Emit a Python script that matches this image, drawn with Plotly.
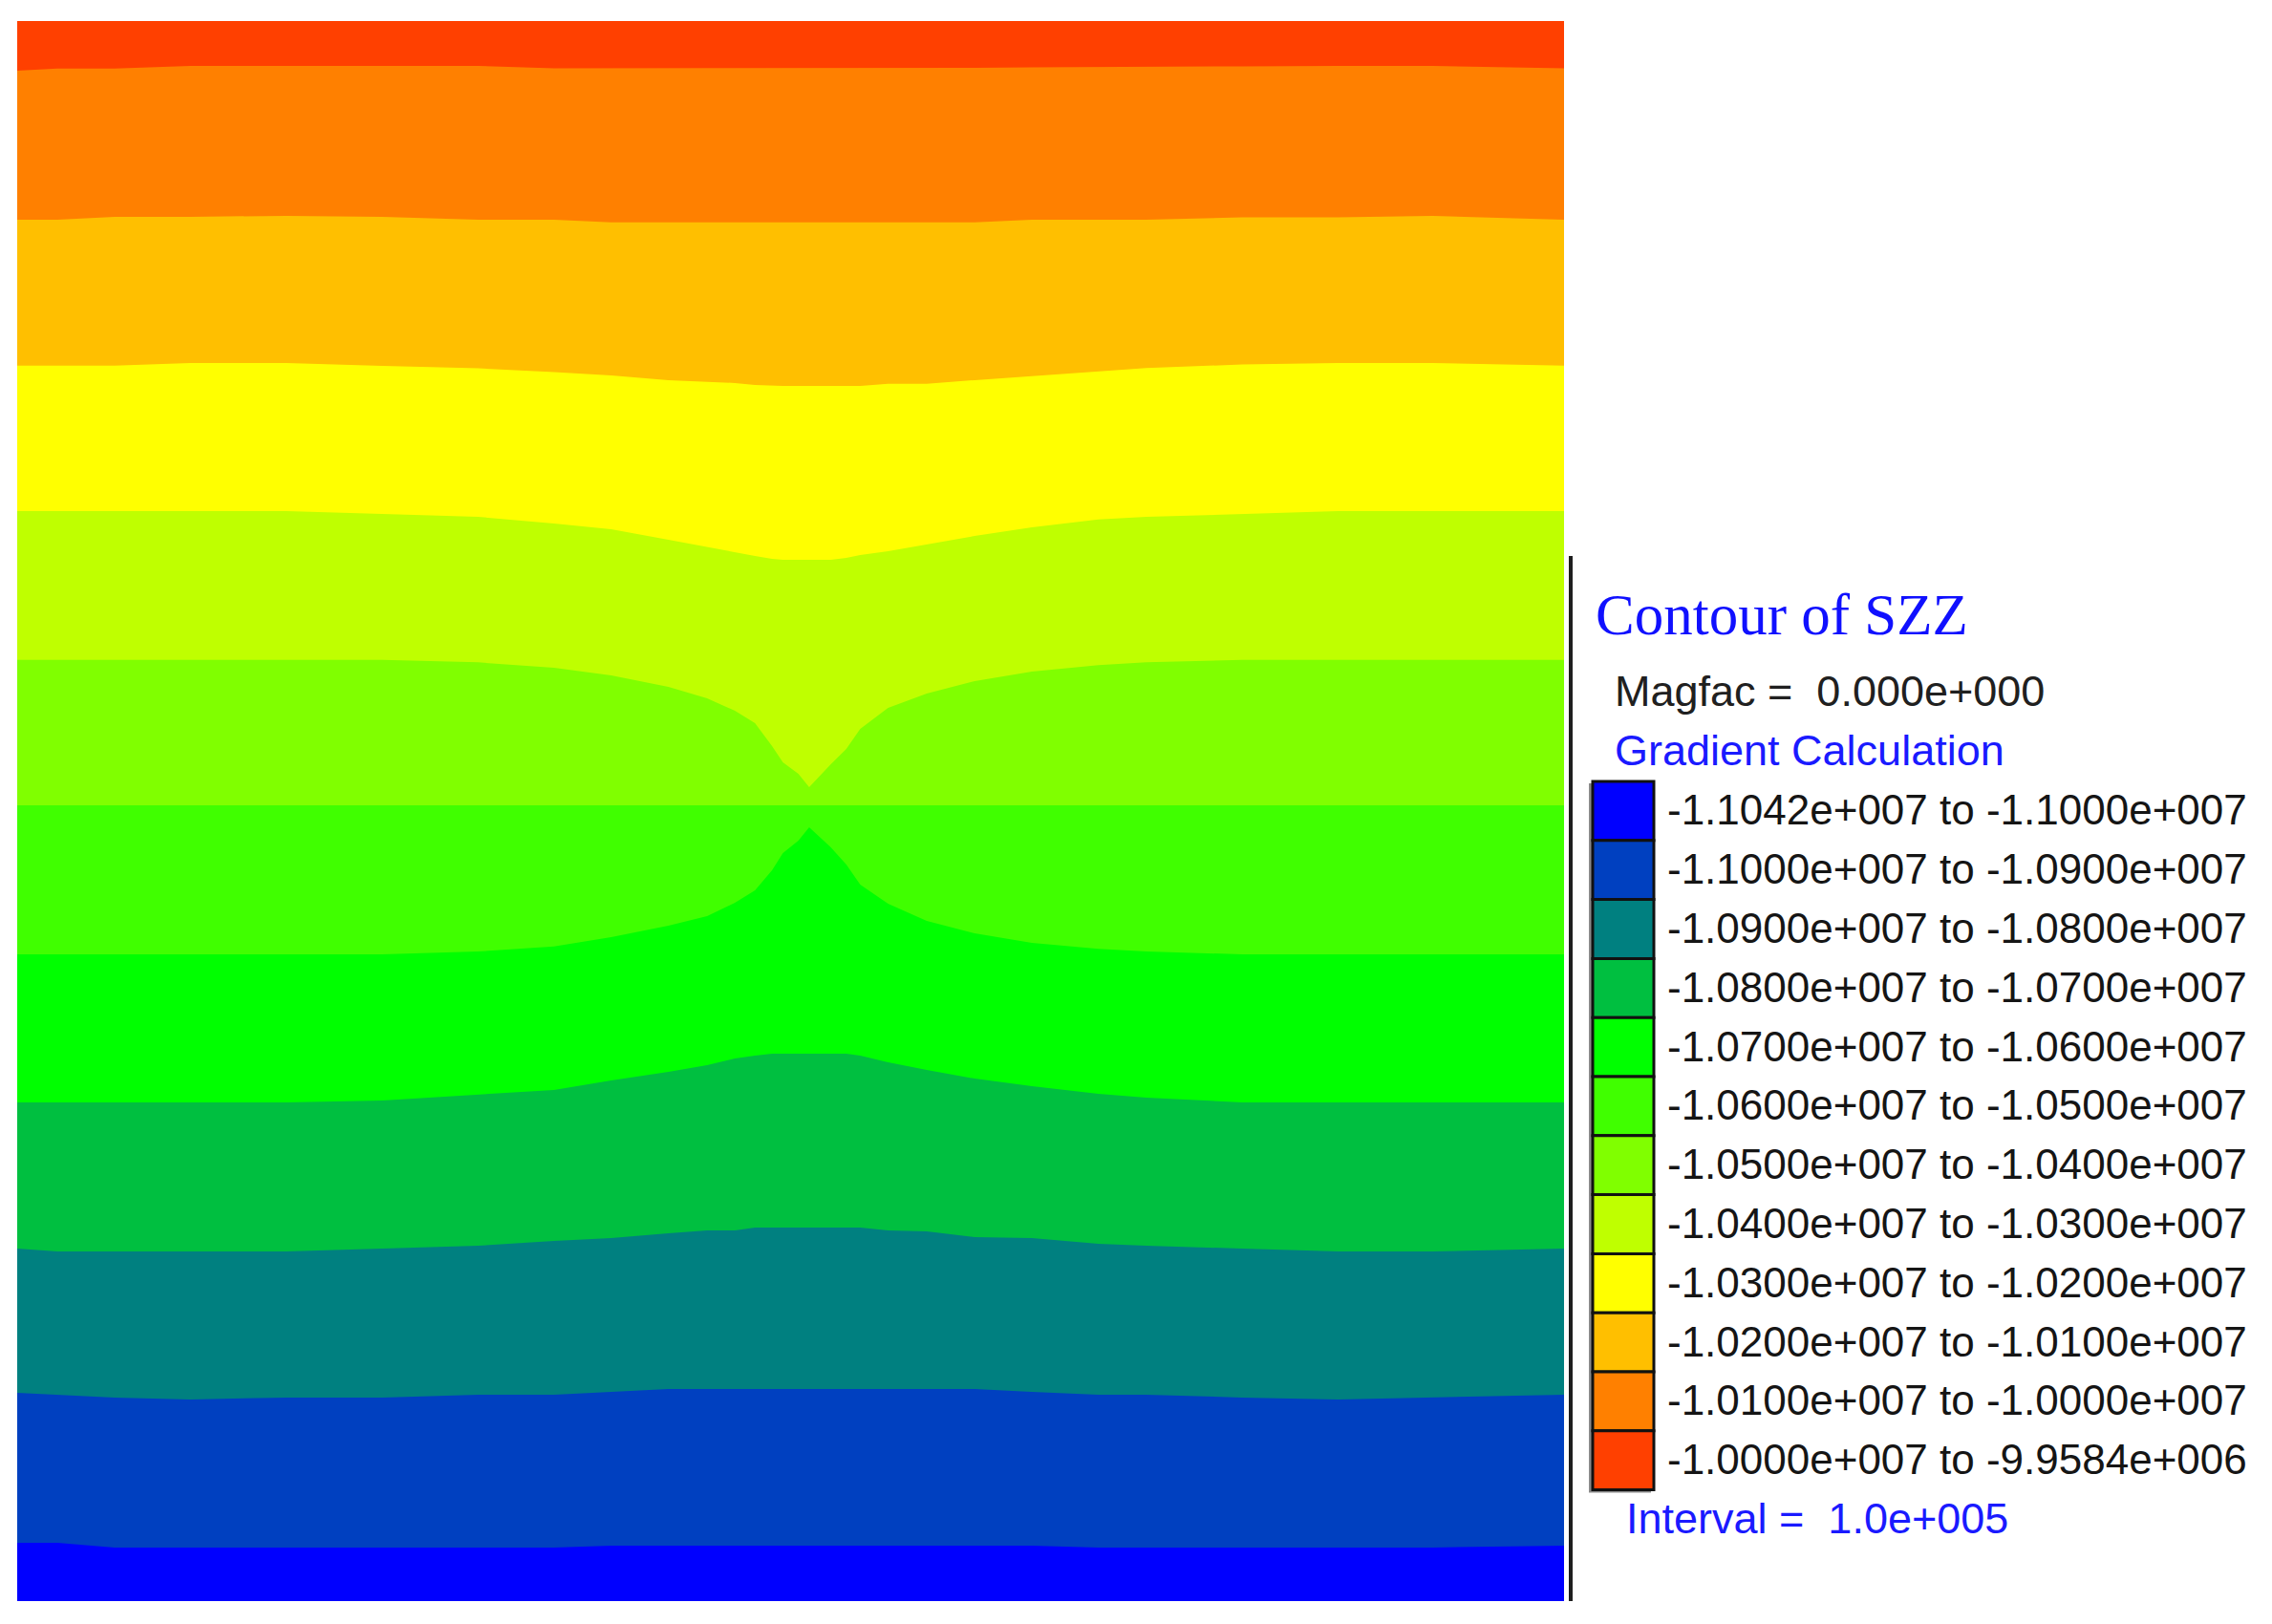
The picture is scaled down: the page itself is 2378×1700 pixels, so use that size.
import plotly.graph_objects as go

# Contour of SZZ (FLAC3D style).
# x across the model: 0 = left edge, 100 = right edge
x_pos = [0, 2.6, 6.3, 11.2, 17.4, 23.6, 29.8, 34.7, 38.4, 42.1, 44.6, 46.4, 47.7, 48.8, 49.5,
         50.5, 51.2, 51.9, 52.6, 53.6, 54.5, 56.3, 58.8, 61.9, 65.6, 69.9, 73.0, 79.2, 85.4,
         91.5, 100]

# elevation of each contour line (0 = model bottom, 100 = model top)
iso_m1100 = [3.69, 3.69, 3.39, 3.39, 3.39, 3.39, 3.39, 3.39, 3.51, 3.51, 3.51, 3.51, 3.51, 3.51,
             3.51, 3.51, 3.51, 3.51, 3.51, 3.51, 3.51, 3.51, 3.51, 3.51, 3.51, 3.39, 3.39, 3.39,
             3.39, 3.39, 3.51]
iso_m1090 = [13.18, 13.06, 12.88, 12.76, 12.88, 12.88, 13.06, 13.06, 13.24, 13.42, 13.42, 13.42,
             13.42, 13.42, 13.42, 13.42, 13.42, 13.42, 13.42, 13.42, 13.42, 13.42, 13.42, 13.42,
             13.24, 13.06, 13.06, 12.88, 12.76, 12.88, 13.06]
iso_m1080 = [22.31, 22.13, 22.13, 22.13, 22.13, 22.31, 22.49, 22.79, 22.97, 23.28, 23.46, 23.46,
             23.64, 23.64, 23.64, 23.64, 23.64, 23.64, 23.64, 23.64, 23.64, 23.46, 23.40, 23.04,
             22.97, 22.61, 22.49, 22.31, 22.13, 22.13, 22.31]
iso_m1070 = [31.56, 31.56, 31.56, 31.56, 31.56, 31.68, 32.04, 32.35, 32.95, 33.49, 33.92, 34.34,
             34.52, 34.64, 34.64, 34.64, 34.64, 34.64, 34.64, 34.64, 34.52, 34.10, 33.62, 33.07,
             32.59, 32.10, 31.86, 31.56, 31.56, 31.56, 31.56]
iso_m1060 = [40.93, 40.93, 40.93, 40.93, 40.93, 40.93, 41.11, 41.43, 42.02, 42.75, 43.35, 44.20,
             44.98, 46.25, 47.34, 48.13, 48.97, 48.31, 47.70, 46.61, 45.35, 44.14, 43.05, 42.26,
             41.66, 41.28, 41.11, 40.93, 40.93, 40.93, 40.93]
iso_m1050 = [50.36, 50.36, 50.36, 50.36, 50.36, 50.36, 50.36, 50.36, 50.36, 50.36, 50.36, 50.36,
             50.36, 50.36, 50.36, 50.36, 50.36, 50.36, 50.36, 50.36, 50.36, 50.36, 50.36, 50.36,
             50.36, 50.36, 50.36, 50.36, 50.36, 50.36, 50.36]
iso_m1040 = [59.57, 59.57, 59.57, 59.57, 59.57, 59.57, 59.41, 59.07, 58.59, 57.86, 57.13, 56.35,
             55.56, 54.11, 53.08, 52.36, 51.51, 52.24, 52.96, 53.93, 55.20, 56.53, 57.44, 58.22,
             58.83, 59.23, 59.41, 59.57, 59.57, 59.57, 59.57]
iso_m1030 = [68.98, 68.98, 68.98, 68.98, 68.98, 68.80, 68.62, 68.20, 67.84, 67.17, 66.69, 66.39,
             66.14, 65.96, 65.90, 65.90, 65.90, 65.90, 65.90, 66.02, 66.20, 66.45, 66.87, 67.41,
             67.96, 68.46, 68.62, 68.80, 68.98, 68.98, 68.98]
iso_m1020 = [78.19, 78.19, 78.19, 78.36, 78.36, 78.17, 78.02, 77.78, 77.57, 77.27, 77.15, 77.09,
             76.96, 76.90, 76.90, 76.90, 76.90, 76.90, 76.90, 76.90, 76.90, 77.04, 77.04, 77.27,
             77.53, 77.85, 78.04, 78.26, 78.36, 78.36, 78.19]
iso_m1010 = [87.42, 87.42, 87.61, 87.61, 87.67, 87.61, 87.42, 87.42, 87.26, 87.26, 87.26, 87.26,
             87.26, 87.26, 87.26, 87.26, 87.26, 87.26, 87.26, 87.26, 87.26, 87.26, 87.26, 87.26,
             87.42, 87.42, 87.42, 87.58, 87.58, 87.67, 87.42]
iso_m1000 = [96.86, 96.99, 96.99, 97.16, 97.16, 97.16, 97.16, 97.01, 97.01, 97.01, 97.01, 97.01,
             97.01, 97.01, 97.01, 97.01, 97.01, 97.01, 97.01, 97.01, 97.01, 97.01, 97.04, 97.04,
             97.07, 97.10, 97.10, 97.13, 97.16, 97.16, 97.01]
model_top = [100, 100]
model_x = [0, 100]

# contour levels (low -> high) and their band colours
levels = [-1.1042e7, -1.1000e7, -1.0900e7, -1.0800e7, -1.0700e7, -1.0600e7, -1.0500e7,
          -1.0400e7, -1.0300e7, -1.0200e7, -1.0100e7, -1.0000e7, -9.9584e6]
band_colors = ["#0000FF", "#0040C0", "#008080", "#00BF40", "#00FF00", "#40FF00",
               "#80FF00", "#BFFF00", "#FFFF00", "#FFBF00", "#FF8000", "#FF4000"]
iso_lines = [iso_m1100, iso_m1090, iso_m1080, iso_m1070, iso_m1060, iso_m1050,
             iso_m1040, iso_m1030, iso_m1020, iso_m1010, iso_m1000]

# page body keeps an 8px margin, so the figure is a little smaller than the window
PAD = 8
W, H = 2378 - 2 * PAD, 1700 - 2 * PAD


def px(x):
    return (x - PAD) / W


def py(y):
    return 1 - (y - PAD) / H


def sci(v):
    mant, exp = f"{v:.4e}".split("e")
    return f"{mant}e{exp[0]}{int(exp[1:]):03d}"


SANS = "Liberation Sans, Arial, sans-serif"
SERIF = "Liberation Serif, Times New Roman, serif"

fig = go.Figure()

# paint from the top band downwards, each band fills down to the model bottom
fig.add_trace(go.Scatter(x=model_x, y=model_top, mode="lines", line=dict(width=0),
                         fill="tozeroy", fillcolor=band_colors[-1], hoverinfo="skip"))
for k in range(len(iso_lines) - 1, -1, -1):
    fig.add_trace(go.Scatter(x=x_pos, y=iso_lines[k], mode="lines", line=dict(width=0),
                             fill="tozeroy", fillcolor=band_colors[k], hoverinfo="skip"))

shapes = [
    # divider line left of the legend
    dict(type="line", xref="paper", yref="paper", x0=px(1644), x1=px(1644),
         y0=py(582), y1=py(1676), line=dict(color="#1e1e1e", width=4)),
]
sw_top, sw_h = 818, 61.8
# swatch shadow
shapes.append(dict(type="rect", xref="paper", yref="paper", x0=px(1663), x1=px(1728),
                   y0=py(sw_top + 2), y1=py(sw_top + 12 * sw_h + 3),
                   line=dict(width=0), fillcolor="#8a8a8a", layer="above"))


def note(text, x, y, size, color, family=SANS):
    return dict(text=text, xref="paper", yref="paper", x=px(x), y=py(y),
                xanchor="left", yanchor="middle", showarrow=False,
                font=dict(family=family, size=size, color=color))


annotations = [
    note("Contour of SZZ", 1668, 643, 61, "#1010ff", SERIF),
    note("Magfac =\u00a0 0.000e+000", 1688, 723, 45, "#202020"),
    note("Gradient Calculation", 1688, 785, 45, "#1a1aff"),
    note("Interval =\u00a0 1.0e+005", 1700, 1589, 45, "#1a1aff"),
]
for i, color in enumerate(band_colors):
    y0 = sw_top + i * sw_h
    shapes.append(dict(type="rect", xref="paper", yref="paper", x0=px(1667), x1=px(1731),
                       y0=py(y0), y1=py(y0 + sw_h), fillcolor=color,
                       line=dict(color="#111111", width=3), layer="above"))
    annotations.append(note(f"{sci(levels[i])} to {sci(levels[i + 1])}",
                            1743, y0 + sw_h / 2 - 1, 44, "#151515"))

fig.update_layout(
    width=W, height=H,
    margin=dict(l=0, r=0, t=0, b=0),
    paper_bgcolor="white", plot_bgcolor="white",
    showlegend=False,
    xaxis=dict(domain=[px(18), px(1637)], range=[0, 100], visible=False, fixedrange=True),
    yaxis=dict(domain=[py(1676), py(22)], range=[0, 100], visible=False, fixedrange=True),
    shapes=shapes,
    annotations=annotations,
)

fig.write_html("out.html")
